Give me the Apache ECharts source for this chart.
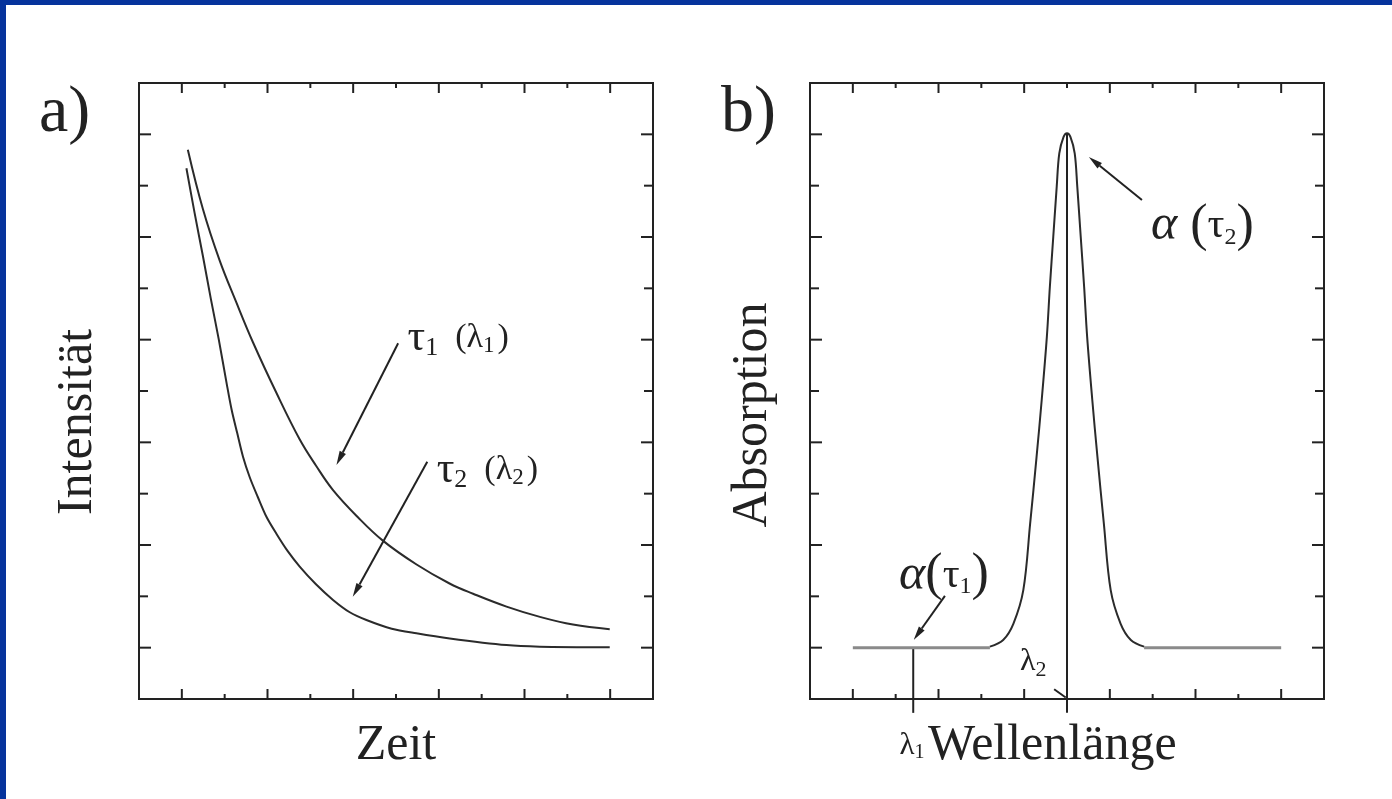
<!DOCTYPE html>
<html><head><meta charset="utf-8">
<script src="https://cdn.jsdelivr.net/npm/echarts@6/dist/echarts.min.js"></script>
<style>
html,body{margin:0;padding:0;background:#fff;}
#wrap{position:relative;width:1392px;height:799px;overflow:hidden;background:#fff;}
#chart{position:absolute;left:0;top:0;width:1392px;height:799px;}
#bt{position:absolute;left:0;top:0;width:1392px;height:5px;background:#06339c;}
#bl{position:absolute;left:0;top:0;width:6px;height:799px;background:#06339c;}
</style></head><body>
<div id="wrap"><div id="chart"></div><div id="bt"></div><div id="bl"></div></div>
<script>
// ---------- data ----------
// panel a: decay curves (x = time, y = intensity)
const decay1X = [1.14,1.49,1.88,2.27,2.66,3.21,3.75,4.13,4.53,5.10,5.70,6.48,7.25,7.80,8.58,9.36,10.13,10.99];
const decay1Y = [10.70,9.55,8.55,7.73,6.95,5.96,5.06,4.55,4.07,3.55,3.08,2.62,2.25,2.05,1.80,1.60,1.45,1.36];
const decay2X = [1.107,1.300,1.494,1.674,1.861,2.048,2.164,2.293,2.428,2.585,2.771,2.975,3.215,3.472,3.752,4.126,4.530,4.92,5.309,5.90,6.477,7.254,8.578,9.356,10.99];
const decay2Y = [10.34,9.46,8.62,7.81,7.01,6.14,5.63,5.18,4.72,4.32,3.94,3.55,3.21,2.88,2.58,2.24,1.93,1.69,1.54,1.37,1.28,1.18,1.05,1.02,1.01];
// panel b: absorption peak
const peakX = [4.20,4.51,4.75,4.98,5.14,5.29,5.41,5.53,5.60,5.68,5.76,5.82,5.92,6.00,6.08,6.18,6.24,6.32,6.40,6.47,6.59,6.71,6.86,7.02,7.25,7.49,7.80];
const peakY = [1.02,1.15,1.47,2.12,3.42,4.72,5.83,7.06,8.03,9.01,9.98,10.63,10.95,11.02,10.95,10.63,9.98,9.01,8.03,7.06,5.83,4.72,3.42,2.12,1.47,1.15,1.02];
const baseLeftX = [1.0, 4.20];
const baseRightX = [7.80, 11.0];
const baseY = 1.0;
// annotation arrows [x1,y1,x2,y2] (tail -> tip)
const arrowsA = [[6.05,6.93,4.61,4.56],[6.73,4.62,4.99,1.99]];
const arrowsB = [[7.75,9.72,6.51,10.56],[3.15,2.01,2.42,1.15]];
// plain segments in panel b [x1,y1,x2,y2]
const segmentsB = [[6.0,-0.27,6.0,11.02],[2.41,-0.27,2.41,1.0],[5.70,0.19,5.97,0.03]];
// text annotations [x, y]
const labelTau1 = [6.27, 7.03];
const labelTau2 = [6.95, 4.46];
const labelAlpha2 = [7.96, 9.21];
const labelAlpha1 = [2.08, 2.40];
const labelLam2 = [4.90, 0.72];
// tick values (axis range 0..12)
const longTicks = [1,3,5,7,9,11];
const shortTicks = [2,4,6,8,10];

// ---------- chart ----------
const FONT = "'Liberation Serif','DejaVu Serif',serif";
const INK = '#222';
const zip = (a,b) => a.map((v,i)=>[v,b[i]]);
const X_LONG = 10, X_SHORT = 5, Y_LONG = 12, Y_SHORT = 9;

function mkAxis(gridIndex, pos, extra) {
  return Object.assign({
    type:'value', gridIndex, position:pos, min:0, max:12, interval:1,
    axisLine:{show:false}, splitLine:{show:false}, axisLabel:{show:false}, axisTick:{show:false}
  }, extra || {});
}
const nameStyle = {fontSize:50, fontFamily:FONT, color:INK};

const xAxes = [
  mkAxis(0,'bottom',{name:'Zeit', nameLocation:'middle', nameGap:22, nameTextStyle:nameStyle}),
  mkAxis(1,'bottom',{name:'{l|λ}{s|1}{g| }Wellenlänge', nameLocation:'middle', nameGap:22,
     nameTextStyle:Object.assign({}, nameStyle, {padding:[0,58,0,0], rich:{
       l:{fontSize:31, fontFamily:FONT, color:INK},
       s:{fontSize:20, fontFamily:FONT, color:INK, padding:[14,0,0,0]},
       g:{fontSize:14, fontFamily:FONT, color:INK}
     }})})
];
const yAxes = [
  mkAxis(0,'left',{name:'Intensität', nameLocation:'middle', nameGap:36, nameRotate:90,
     nameTextStyle:Object.assign({}, nameStyle, {padding:[0,62,0,0]})}),
  mkAxis(1,'left',{name:'Absorption', nameLocation:'middle', nameGap:32, nameRotate:90,
     nameTextStyle:Object.assign({}, nameStyle, {padding:[0,48,0,0]})})
];

function arrowRender(params, api) {
  const p1 = api.coord([api.value(0), api.value(1)]);
  const p2 = api.coord([api.value(2), api.value(3)]);
  const dx = p2[0]-p1[0], dy = p2[1]-p1[1];
  const L = Math.hypot(dx,dy), ux = dx/L, uy = dy/L;
  const hl = 14, hw = 3.5;
  const bx = p2[0]-ux*hl, by = p2[1]-uy*hl;
  return {type:'group', children:[
    {type:'line', shape:{x1:p1[0],y1:p1[1],x2:bx,y2:by}, style:{stroke:INK,lineWidth:2}},
    {type:'polygon', shape:{points:[[p2[0],p2[1]],[bx-uy*hw,by+ux*hw],[bx+uy*hw,by-ux*hw]]}, style:{fill:INK}}
  ]};
}
function segRender(params, api) {
  const p1 = api.coord([api.value(0), api.value(1)]);
  const p2 = api.coord([api.value(2), api.value(3)]);
  return {type:'line', shape:{x1:p1[0],y1:p1[1],x2:p2[0],y2:p2[1]}, style:{stroke:INK,lineWidth:2}};
}
// inward ticks on all four sides of a frame, placed through the axes' scales
function xTickRender(len) {
  return function (params, api) {
    const v = api.value(0);
    const b = api.coord([v, 0]), t = api.coord([v, 12]);
    return {type:'group', children:[
      {type:'line', shape:{x1:b[0],y1:b[1],x2:b[0],y2:b[1]-len}, style:{stroke:INK,lineWidth:2}},
      {type:'line', shape:{x1:t[0],y1:t[1],x2:t[0],y2:t[1]+len}, style:{stroke:INK,lineWidth:2}}
    ]};
  };
}
function yTickRender(len) {
  return function (params, api) {
    const v = api.value(1);
    const l = api.coord([0, v]), r = api.coord([12, v]);
    return {type:'group', children:[
      {type:'line', shape:{x1:l[0],y1:l[1],x2:l[0]+len,y2:l[1]}, style:{stroke:INK,lineWidth:2}},
      {type:'line', shape:{x1:r[0],y1:r[1],x2:r[0]-len,y2:r[1]}, style:{stroke:INK,lineWidth:2}}
    ]};
  };
}
function tickSeries(idx) {
  const base = {type:'custom', xAxisIndex:idx, yAxisIndex:idx, encode:{x:0,y:1}, clip:false, silent:true};
  return [
    Object.assign({}, base, {data:longTicks.map(v=>[v,0]), renderItem:xTickRender(X_LONG)}),
    Object.assign({}, base, {data:shortTicks.map(v=>[v,0]), renderItem:xTickRender(X_SHORT)}),
    Object.assign({}, base, {data:longTicks.map(v=>[0,v]), renderItem:yTickRender(Y_LONG)}),
    Object.assign({}, base, {data:shortTicks.map(v=>[0,v]), renderItem:yTickRender(Y_SHORT)})
  ];
}

const richCommon = {
  t:{fontSize:44, fontFamily:FONT, color:INK},
  s:{fontSize:26, fontFamily:FONT, color:INK, padding:[20,0,0,0]},
  p:{fontSize:34, fontFamily:FONT, color:INK},
  ps:{fontSize:23, fontFamily:FONT, color:INK, padding:[15,0,0,0]},
  g:{fontSize:12, fontFamily:FONT, color:INK},
  a:{fontSize:50, fontFamily:FONT, color:INK, fontStyle:'italic'},
  ap:{fontSize:52, fontFamily:FONT, color:INK},
  at:{fontSize:42, fontFamily:FONT, color:INK},
  as:{fontSize:24, fontFamily:FONT, color:INK, padding:[22,0,0,0]},
  l:{fontSize:32, fontFamily:FONT, color:INK},
  ls:{fontSize:22, fontFamily:FONT, color:INK, padding:[16,0,0,0]}
};
function textPoint(pos, fmt) {
  return {value:pos, label:{show:true, position:'right', distance:0, formatter:fmt, color:INK, rich:richCommon}};
}

const option = {
  animation:false,
  backgroundColor:'#fff',
  title:[
    {text:'a)', left:34, top:76, textStyle:{fontSize:66, fontFamily:FONT, fontWeight:'normal', color:INK}},
    {text:'b)', left:716, top:76, textStyle:{fontSize:66, fontFamily:FONT, fontWeight:'normal', color:INK}}
  ],
  grid:[
    {left:139, top:83, width:514, height:616, show:true, borderColor:INK, borderWidth:2, backgroundColor:'transparent'},
    {left:810, top:83, width:514, height:616, show:true, borderColor:INK, borderWidth:2, backgroundColor:'transparent'}
  ],
  xAxis:xAxes,
  yAxis:yAxes,
  series:[
    ...tickSeries(0),
    ...tickSeries(1),
    {type:'line', xAxisIndex:0, yAxisIndex:0, data:zip(decay1X,decay1Y), smooth:0.4, showSymbol:false, symbol:'none', lineStyle:{color:'#2b2b2b', width:2}},
    {type:'line', xAxisIndex:0, yAxisIndex:0, data:zip(decay2X,decay2Y), smooth:0.3, showSymbol:false, symbol:'none', lineStyle:{color:'#2b2b2b', width:2}},
    {type:'custom', xAxisIndex:0, yAxisIndex:0, data:arrowsA, renderItem:arrowRender, encode:{x:[0,2], y:[1,3]}, clip:false, silent:true},
    {type:'scatter', xAxisIndex:0, yAxisIndex:0, symbolSize:0, silent:true, itemStyle:{opacity:1}, data:[
      textPoint(labelTau1, '{t|τ}{s|1}{p|  (λ}{ps|1}{g| }{p|)}'),
      textPoint(labelTau2, '{t|τ}{s|2}{p|  (λ}{ps|2}{g| }{p|)}')
    ]},
    {type:'line', xAxisIndex:1, yAxisIndex:1, data:baseLeftX.map(x=>[x,baseY]), showSymbol:false, symbol:'none', lineStyle:{color:'#8a8a8a', width:3}},
    {type:'line', xAxisIndex:1, yAxisIndex:1, data:baseRightX.map(x=>[x,baseY]), showSymbol:false, symbol:'none', lineStyle:{color:'#8a8a8a', width:3}},
    {type:'line', xAxisIndex:1, yAxisIndex:1, data:zip(peakX,peakY), smooth:0.35, showSymbol:false, symbol:'none', lineStyle:{color:'#2b2b2b', width:2}},
    {type:'custom', xAxisIndex:1, yAxisIndex:1, data:segmentsB, renderItem:segRender, encode:{x:[0,2], y:[1,3]}, clip:false, silent:true},
    {type:'custom', xAxisIndex:1, yAxisIndex:1, data:arrowsB, renderItem:arrowRender, encode:{x:[0,2], y:[1,3]}, clip:false, silent:true},
    {type:'scatter', xAxisIndex:1, yAxisIndex:1, symbolSize:0, silent:true, itemStyle:{opacity:1}, data:[
      textPoint(labelAlpha2, '{a|α}{ap| (}{at|τ}{as|2}{ap|)}'),
      textPoint(labelAlpha1, '{a|α}{ap|(}{at|τ}{as|1}{ap|)}'),
      textPoint(labelLam2, '{l|λ}{ls|2}')
    ]}
  ]
};
const chart = echarts.init(document.getElementById('chart'), null, {renderer:'canvas'});
chart.setOption(option);
</script></body></html>
